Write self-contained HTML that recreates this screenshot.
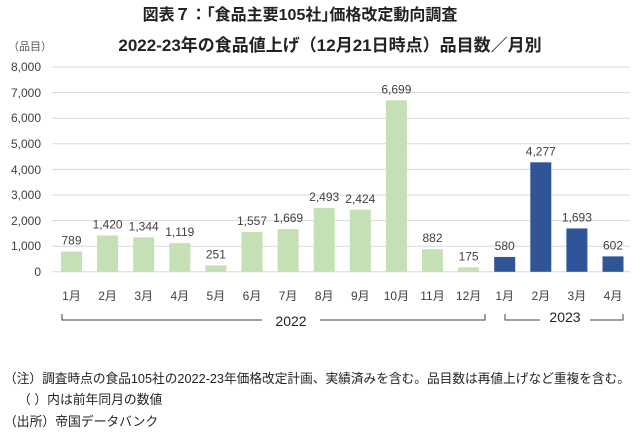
<!DOCTYPE html><html><head><meta charset="utf-8"><style>
body{margin:0;background:#fff;}
text{font-family:"Liberation Sans","Noto Sans CJK JP",sans-serif;}
</style></head><body>
<svg width="640" height="436" xmlns="http://www.w3.org/2000/svg">
<rect width="640" height="436" fill="#fff"/>
<text x="300" y="20" font-size="16" font-weight="bold" text-anchor="middle" fill="#222">図表７：｢食品主要105社｣価格改定動向調査</text>
<text x="330" y="51" font-size="17" font-weight="bold" text-anchor="middle" fill="#222">2022-23年の食品値上げ（12月21日時点）品目数／月別</text>
<text x="8" y="50" font-size="11" fill="#555">（品目）</text>
<g stroke="#d9d9d9" stroke-width="1">
<line x1="52" x2="630" y1="67" y2="67"/><line x1="52" x2="630" y1="92.6" y2="92.6"/><line x1="52" x2="630" y1="118.2" y2="118.2"/><line x1="52" x2="630" y1="143.8" y2="143.8"/><line x1="52" x2="630" y1="169.4" y2="169.4"/><line x1="52" x2="630" y1="195" y2="195"/><line x1="52" x2="630" y1="220.6" y2="220.6"/><line x1="52" x2="630" y1="246.2" y2="246.2"/><line x1="52" x2="630" y1="271.8" y2="271.8"/>
</g>
<g font-size="12" fill="#404040" text-anchor="end">
<text x="41" y="71">8,000</text><text x="41" y="97">7,000</text><text x="41" y="122">6,000</text><text x="41" y="148">5,000</text><text x="41" y="174">4,000</text><text x="41" y="199">3,000</text><text x="41" y="225">2,000</text><text x="41" y="250">1,000</text><text x="41" y="276">0</text>
</g>
<g fill="#c5e0b4">
<rect x="61" y="251.6" width="21" height="20.2"/>
<rect x="97.1" y="235.45" width="21" height="36.35"/>
<rect x="133.2" y="237.39" width="21" height="34.41"/>
<rect x="169.3" y="243.15" width="21" height="28.65"/>
<rect x="205.4" y="265.37" width="21" height="6.43"/>
<rect x="241.5" y="231.94" width="21" height="39.86"/>
<rect x="277.6" y="229.07" width="21" height="42.73"/>
<rect x="313.7" y="207.98" width="21" height="63.82"/>
<rect x="349.8" y="209.75" width="21" height="62.05"/>
<rect x="385.9" y="100.31" width="21" height="171.49"/>
<rect x="422" y="249.22" width="21" height="22.58"/>
<rect x="458.1" y="267.32" width="21" height="4.48"/>
</g>
<g fill="#2f5597">
<rect x="494.2" y="256.95" width="21" height="14.85"/>
<rect x="530.3" y="162.31" width="21" height="109.49"/>
<rect x="566.4" y="228.46" width="21" height="43.34"/>
<rect x="602.5" y="256.39" width="21" height="15.41"/>
</g>
<g font-size="12" fill="#404040" text-anchor="middle">
<text x="71.5" y="244.6">789</text>
<text x="107.6" y="228.5">1,420</text>
<text x="143.7" y="230.4">1,344</text>
<text x="179.8" y="236.2">1,119</text>
<text x="215.9" y="258.4">251</text>
<text x="252" y="224.9">1,557</text>
<text x="288.1" y="222.1">1,669</text>
<text x="324.2" y="201">2,493</text>
<text x="360.3" y="202.8">2,424</text>
<text x="396.4" y="93.3">6,699</text>
<text x="432.5" y="242.2">882</text>
<text x="468.6" y="260.3">175</text>
<text x="504.7" y="250">580</text>
<text x="540.8" y="155.3">4,277</text>
<text x="576.9" y="221.5">1,693</text>
<text x="613" y="249.4">602</text>
</g>
<g font-size="12" fill="#404040" text-anchor="middle">
<text x="71.5" y="300">1月</text><text x="107.6" y="300">2月</text><text x="143.7" y="300">3月</text><text x="179.8" y="300">4月</text><text x="215.9" y="300">5月</text><text x="252" y="300">6月</text><text x="288.1" y="300">7月</text><text x="324.2" y="300">8月</text><text x="360.3" y="300">9月</text><text x="396.4" y="300">10月</text><text x="432.5" y="300">11月</text><text x="468.6" y="300">12月</text><text x="504.7" y="300">1月</text><text x="540.8" y="300">2月</text><text x="576.9" y="300">3月</text><text x="613" y="300">4月</text>
</g>
<g stroke="#404040" stroke-width="1" fill="none">
<polyline points="62,314 62,320 262,320"/><polyline points="320,320 485,320 485,314"/>
<polyline points="505,314 505,320 540,320"/><polyline points="590,320 623,320 623,314"/>
</g>
<text x="291" y="326" font-size="14" fill="#222" text-anchor="middle">2022</text>
<text x="565" y="322" font-size="14" fill="#222" text-anchor="middle">2023</text>
<g font-size="12.8" fill="#222">
<text x="4" y="383" textLength="626" lengthAdjust="spacingAndGlyphs">（注）調査時点の食品105社の2022-23年価格改定計画、実績済みを含む。品目数は再値上げなど重複を含む。</text>
<text x="18" y="404">（ ）内は前年同月の数値</text>
<text x="4" y="426">（出所）帝国データバンク</text>
</g>
</svg>
</body></html>
